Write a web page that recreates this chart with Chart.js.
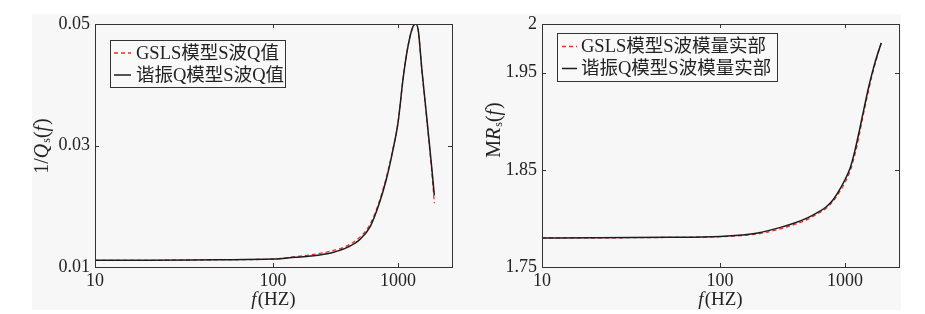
<!DOCTYPE html>
<html><head><meta charset="utf-8">
<script src="https://cdn.jsdelivr.net/npm/chart.js@4/dist/chart.umd.min.js"></script>
<style>
html,body{margin:0;padding:0;background:#fff;overflow:hidden;}
#bg{position:absolute;left:32px;top:14px;width:869px;height:296px;background:#f7f7f7;}
canvas{position:absolute;top:0;}
</style></head><body>
<div id="bg"></div>
<canvas id="c1" width="462" height="314" style="left:0;width:462px;height:314px"></canvas>
<canvas id="c2" width="463" height="314" style="left:462px;width:463px;height:314px"></canvas>
<script>
// ---- data ----
const freqHz = [10, 20, 50, 100, 150, 200, 300, 400, 500, 600, 700, 800, 900, 1000, 1100, 1200, 1300, 1380, 1450, 1550, 1650, 1750, 1850, 1950];
const qInvGsls = [0.0111, 0.0111, 0.0112, 0.0113, 0.0117, 0.0120, 0.0127, 0.0136, 0.0150, 0.0171, 0.0205, 0.0245, 0.0290, 0.0338, 0.0412, 0.0463, 0.0492, 0.0500, 0.0489, 0.0424, 0.0368, 0.0315, 0.0263, 0.0205];
const qInvHarm = [0.0111, 0.0111, 0.0112, 0.0113, 0.0116, 0.0118, 0.0124, 0.0133, 0.0146, 0.0167, 0.0202, 0.0242, 0.0288, 0.0338, 0.0412, 0.0463, 0.0493, 0.0500, 0.0490, 0.0425, 0.0370, 0.0318, 0.0268, 0.0218];
const mrGsls = [1.7799, 1.7800, 1.7804, 1.7812, 1.7824, 1.7840, 1.7890, 1.7940, 1.7990, 1.8045, 1.8100, 1.8175, 1.8270, 1.8370, 1.8490, 1.8660, 1.8860, 1.9030, 1.9160, 1.9330, 1.9480, 1.9600, 1.9710, 1.9815];
const mrHarm = [1.7799, 1.7800, 1.7805, 1.7815, 1.7830, 1.7850, 1.7905, 1.7955, 1.8005, 1.8060, 1.8115, 1.8190, 1.8290, 1.8400, 1.8520, 1.8700, 1.8900, 1.9060, 1.9190, 1.9360, 1.9500, 1.9620, 1.9720, 1.9805];
const xTickValues = [10, 100, 1000];
const qTickValues = [0.01, 0.03, 0.05];
const qTickLabels = ['0.01', '0.03', '0.05'];
const mrTickValues = [1.75, 1.85, 1.95, 2];
const mrTickLabels = ['1.75', '1.85', '1.95', '2'];
const qSeriesLabels = ['GSLS模型S波Q值', '谐振Q模型S波Q值'];
const mrSeriesLabels = ['GSLS模型S波模量实部', '谐振Q模型S波模量实部'];

// ---- frequency axis transform (first decade is drawn wider than the others) ----
const K = 178 / 125;
function pos(f) { const l = Math.log10(f); return f <= 100 ? (l - 1) * K : K + (l - 2); }
const X_MAX_HZ = 2700;

const FONT = '"Liberation Serif", "Noto Sans CJK SC", serif';
const TXT = '#222';

function drawPieces(ctx, pieces, size) {
  let w = 0;
  const fonts = pieces.map(p => p[1] === 'i' ? `italic ${size}px ${FONT}` : p[1] === 'sub' ? `${Math.round(size*0.6)}px ${FONT}` : `${size}px ${FONT}`);
  pieces.forEach((p, i) => { ctx.font = fonts[i]; w += ctx.measureText(p[0]).width + (p[1]==='i'?1:0); });
  let x = -w / 2;
  pieces.forEach((p, i) => {
    ctx.font = fonts[i];
    ctx.fillText(p[0], x, p[1] === 'sub' ? 4 : 0);
    x += ctx.measureText(p[0]).width + (p[1]==='i'?1:0);
  });
}

const decor = {
  id: 'decor',
  afterDraw(chart, args, o) {
    const ctx = chart.ctx, a = chart.chartArea;
    ctx.save();
    ctx.strokeStyle = '#333'; ctx.lineWidth = 1;
    ctx.strokeRect(Math.round(a.left) + 0.5, Math.round(a.top) + 0.5, Math.round(a.right - a.left), Math.round(a.bottom - a.top));
    const L = 4;
    ctx.beginPath();
    chart.scales.x.ticks.forEach(t => {
      const px = Math.round(chart.scales.x.getPixelForValue(t.value)) + 0.5;
      if (px < a.left + 2 || px > a.right - 2) return;
      ctx.moveTo(px, a.bottom); ctx.lineTo(px, a.bottom - L);
      ctx.moveTo(px, a.top); ctx.lineTo(px, a.top + L);
    });
    chart.scales.y.ticks.forEach(t => {
      const py = Math.round(chart.scales.y.getPixelForValue(t.value)) + 0.5;
      if (py < a.top + 2 || py > a.bottom - 2) return;
      ctx.moveTo(a.left, py); ctx.lineTo(a.left + L, py);
      ctx.moveTo(a.right, py); ctx.lineTo(a.right - L, py);
    });
    ctx.stroke();
    // legend
    const lg = o.legend;
    ctx.fillStyle = '#f9f9f9';
    ctx.fillRect(lg.x, lg.y, lg.w, lg.h);
    ctx.strokeStyle = '#333';
    ctx.strokeRect(lg.x + 0.5, lg.y + 0.5, lg.w, lg.h);
    chart.data.datasets.forEach((ds, i) => {
      const y = lg.rows[i];
      ctx.strokeStyle = ds.borderColor; ctx.lineWidth = ds.borderWidth;
      ctx.setLineDash(ds.borderDash || []);
      ctx.beginPath(); ctx.moveTo(lg.sx0, y); ctx.lineTo(lg.sx1, y); ctx.stroke();
      ctx.setLineDash([]);
      ctx.fillStyle = TXT; ctx.font = `18.5px ${FONT}`;
      ctx.textBaseline = 'middle'; ctx.textAlign = 'left';
      ctx.fillText(ds.label, lg.tx, y + 1);
    });
    // axis titles
    ctx.fillStyle = TXT; ctx.textBaseline = 'middle'; ctx.textAlign = 'left';
    ctx.save();
    ctx.translate((a.left + a.right) / 2, 300);
    drawPieces(ctx, [['f', 'i'], ['(HZ)', 'n']], 19);
    ctx.restore();
    ctx.save();
    ctx.translate(o.yTitle.x, o.yTitle.y);
    ctx.rotate(-Math.PI / 2);
    drawPieces(ctx, o.yTitle.pieces, 20);
    ctx.restore();
    ctx.restore();
  }
};

function makeChart(id, cfg) {
  const mk = arr => freqHz.map((f, i) => ({ x: pos(f), y: arr[i] }));
  return new Chart(document.getElementById(id), {
    type: 'line',
    data: { datasets: [
      { label: cfg.labels[0], data: mk(cfg.red), borderColor: '#e3342f', borderWidth: 1.3, borderDash: [4, 3], pointRadius: 0, cubicInterpolationMode: 'monotone', fill: false, order: 1 },
      { label: cfg.labels[1], data: mk(cfg.black), borderColor: '#1c1c1c', borderWidth: 1.5, pointRadius: 0, cubicInterpolationMode: 'monotone', fill: false, order: 0 }
    ]},
    options: {
      responsive: false, animation: false, devicePixelRatio: 1,
      layout: { padding: { top: 24, right: cfg.padRight, left: 0, bottom: 0 } },
      plugins: { legend: { display: false }, tooltip: { enabled: false },
        decor: { legend: cfg.legend, yTitle: cfg.yTitle } },
      scales: {
        x: {
          type: 'linear', min: 0, max: pos(X_MAX_HZ),
          grid: { display: false, drawTicks: false }, border: { display: false },
          afterBuildTicks: s => { s.ticks = xTickValues.map(v => ({ value: pos(v) })); },
          ticks: { callback: (v, i) => String(xTickValues[i]), font: { family: FONT, size: 18 }, color: TXT, padding: 3, maxRotation: 0, autoSkip: false },
          afterFit: s => { s.height = 47; }
        },
        y: {
          type: 'linear', min: cfg.yMin, max: cfg.yMax,
          grid: { display: false, drawTicks: false }, border: { display: false },
          afterBuildTicks: s => { s.ticks = cfg.yTicks.map(v => ({ value: v })); },
          ticks: { callback: (v, i) => cfg.yLabels[i], font: { family: FONT, size: 18 }, color: TXT, padding: 5, autoSkip: false },
          afterFit: s => { s.width = cfg.yWidth; }
        }
      }
    },
    plugins: [decor]
  });
}

makeChart('c1', {
  labels: qSeriesLabels, red: qInvGsls, black: qInvHarm,
  yMin: 0.01, yMax: 0.05, yTicks: qTickValues, yLabels: qTickLabels,
  yWidth: 95, padRight: 10,
  legend: { x: 110, y: 40, w: 175, h: 47, rows: [53, 75], sx0: 114, sx1: 131, tx: 136 },
  yTitle: { x: 43, y: 146, pieces: [['1/', 'n'], ['Q', 'i'], ['s', 'sub'], ['(', 'n'], ['f', 'i'], [')', 'n']] }
});
makeChart('c2', {
  labels: mrSeriesLabels, red: mrGsls, black: mrHarm,
  yMin: 1.75, yMax: 2, yTicks: mrTickValues, yLabels: mrTickLabels,
  yWidth: 80, padRight: 26,
  legend: { x: 95, y: 33, w: 220, h: 48, rows: [46.5, 68.5], sx0: 100, sx1: 115, tx: 119 },
  yTitle: { x: 33, y: 130, pieces: [['M', 'n'], ['R', 'i'], ['s', 'sub'], ['(', 'n'], ['f', 'i'], [')', 'n']] }
});
</script>
</body></html>
